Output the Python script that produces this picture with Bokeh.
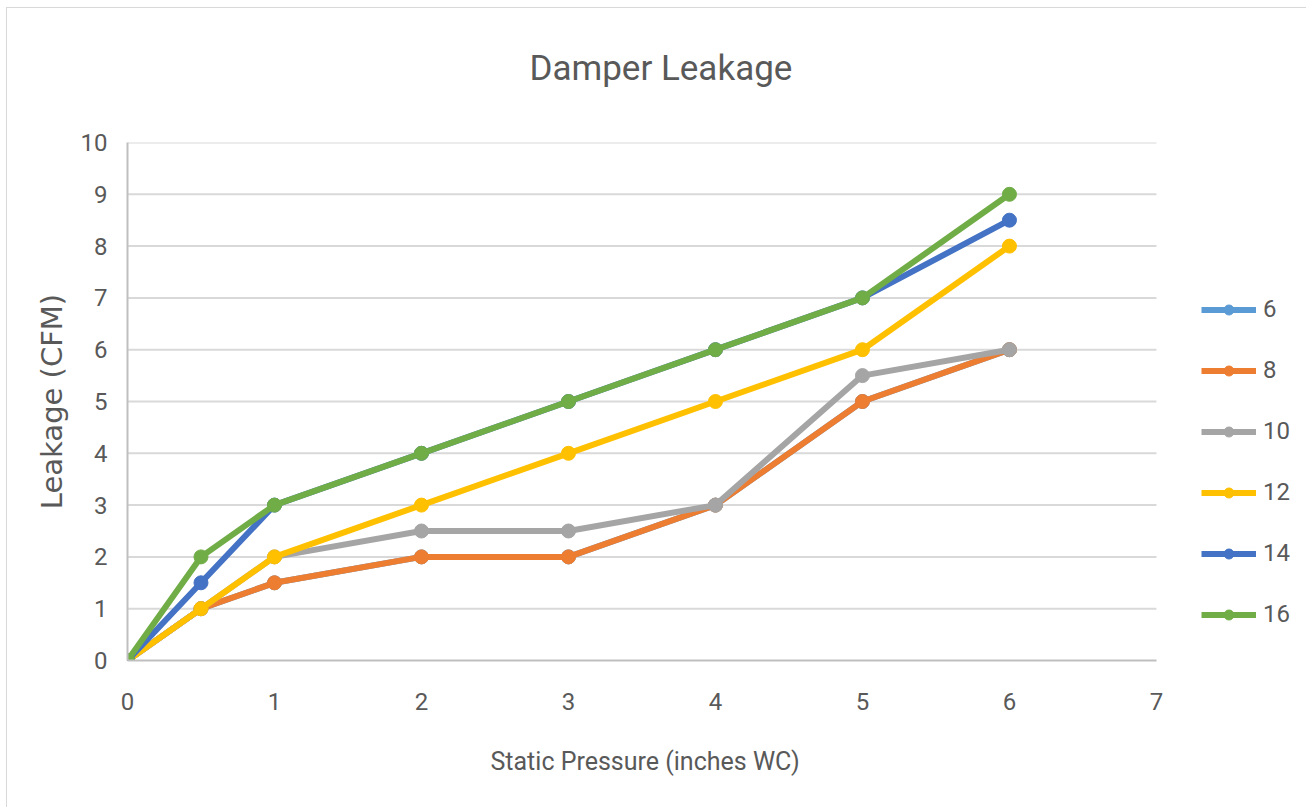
from bokeh.plotting import figure
from bokeh.models import FixedTicker, Legend, LegendItem, Title
from bokeh.embed import file_html
from bokeh.resources import INLINE

# ---- data ----
pressure = [0, 0.5, 1, 2, 3, 4, 5, 6]
series_names = ["6", "8", "10", "12", "14", "16"]
s6 = [0, 1, 1.5, 2, 2, 3, 5, 6]
s8 = [0, 1, 1.5, 2, 2, 3, 5, 6]
s10 = [0, 1, 2, 2.5, 2.5, 3, 5.5, 6]
s12 = [0, 1, 2, 3, 4, 5, 6, 8]
s14 = [0, 1.5, 3, 4, 5, 6, 7, 8.5]
s16 = [0, 2, 3, 4, 5, 6, 7, 9]
x_ticks = [0, 1, 2, 3, 4, 5, 6, 7]
y_ticks = [0, 1, 2, 3, 4, 5, 6, 7, 8, 9, 10]
colors = ["#5B9BD5", "#ED7D31", "#A5A5A5", "#FFC000", "#4472C4", "#70AD47"]
values = [s6, s8, s10, s12, s14, s16]

TEXT = "#595959"
FONT = "Roboto"

# plot area spans the axis (0..7) plus room on the right for the legend
x_end = 7.98

p = figure(width=1300, height=800, output_backend="svg", toolbar_location=None,
           x_range=(x_ticks[0], x_end), y_range=(y_ticks[0], y_ticks[-1]),
           min_border_left=120, min_border_right=7,
           min_border_top=134, min_border_bottom=148)
p.outline_line_color = None
p.styles = {"margin-left": "6px", "margin-top": "7px",
            "border-top": "1px solid #d9d9d9", "border-left": "1px solid #d9d9d9"}

p.title.text = "Damper Leakage"
p.title.align = "left"
p.title.offset = 402
p.title.text_font = FONT
p.title.text_font_style = "normal"
p.title.text_font_size = "35px"
p.title.text_color = TEXT
p.title.standoff = 75

# small spacer between the plot area and the chart title
spacer = Title(text=" ", text_font_size="2px", standoff=12)
p.add_layout(spacer, "above")

p.xaxis.ticker = FixedTicker(ticks=x_ticks)
p.yaxis.ticker = FixedTicker(ticks=y_ticks)
p.xaxis.bounds = (x_ticks[0], x_ticks[-1])
for ax in (p.xaxis[0], p.yaxis[0]):
    ax.major_tick_line_color = None
    ax.minor_tick_line_color = None
    ax.axis_line_color = "#bfbfbf"
    ax.axis_line_width = 2
    ax.major_label_text_color = TEXT
    ax.major_label_text_font = FONT
    ax.major_label_text_font_size = "24px"
    ax.axis_label_text_color = TEXT
    ax.axis_label_text_font_style = "normal"

p.xaxis.major_label_standoff = 26
p.yaxis.major_label_standoff = 14
p.yaxis.axis_label = "Leakage (CFM)"
p.yaxis.axis_label_text_font = "DejaVu Sans"
p.yaxis.axis_label_text_font_size = "29px"
p.yaxis.axis_label_standoff = 9

# x-axis title, centred under the 0..7 axis rather than the whole plot area
xlabel = Title(text="Static Pressure (inches WC)", align="left", offset=363,
               text_font=FONT, text_font_size="25px", text_font_style="normal",
               text_color=TEXT, standoff=64)
p.add_layout(xlabel, "below")

# horizontal gridlines limited to the axis extent
p.xgrid.grid_line_color = None
p.ygrid.grid_line_color = None
p.segment(x0=x_ticks[0], x1=x_ticks[-1], y0=y_ticks[1:], y1=y_ticks[1:],
          line_color="#d9d9d9", line_width=2, level="underlay")

items = []
for name, vals, c in zip(series_names, values, colors):
    ln = p.line(pressure, vals, line_color=c, line_width=6)
    sc = p.scatter(pressure, vals, marker="circle", size=14,
                   fill_color=c, line_color=c)
    items.append(LegendItem(label=name, renderers=[ln, sc]))

legend = Legend(items=items, location=(1074, 32), orientation="vertical",
                glyph_width=55, glyph_height=25, label_height=25,
                label_standoff=7, spacing=33, padding=0, margin=0,
                border_line_color=None, background_fill_alpha=0,
                label_text_color=TEXT, label_text_font=FONT,
                label_text_font_size="24px")
p.add_layout(legend, "center")

open("out.html", "w").write(file_html(p, INLINE))
